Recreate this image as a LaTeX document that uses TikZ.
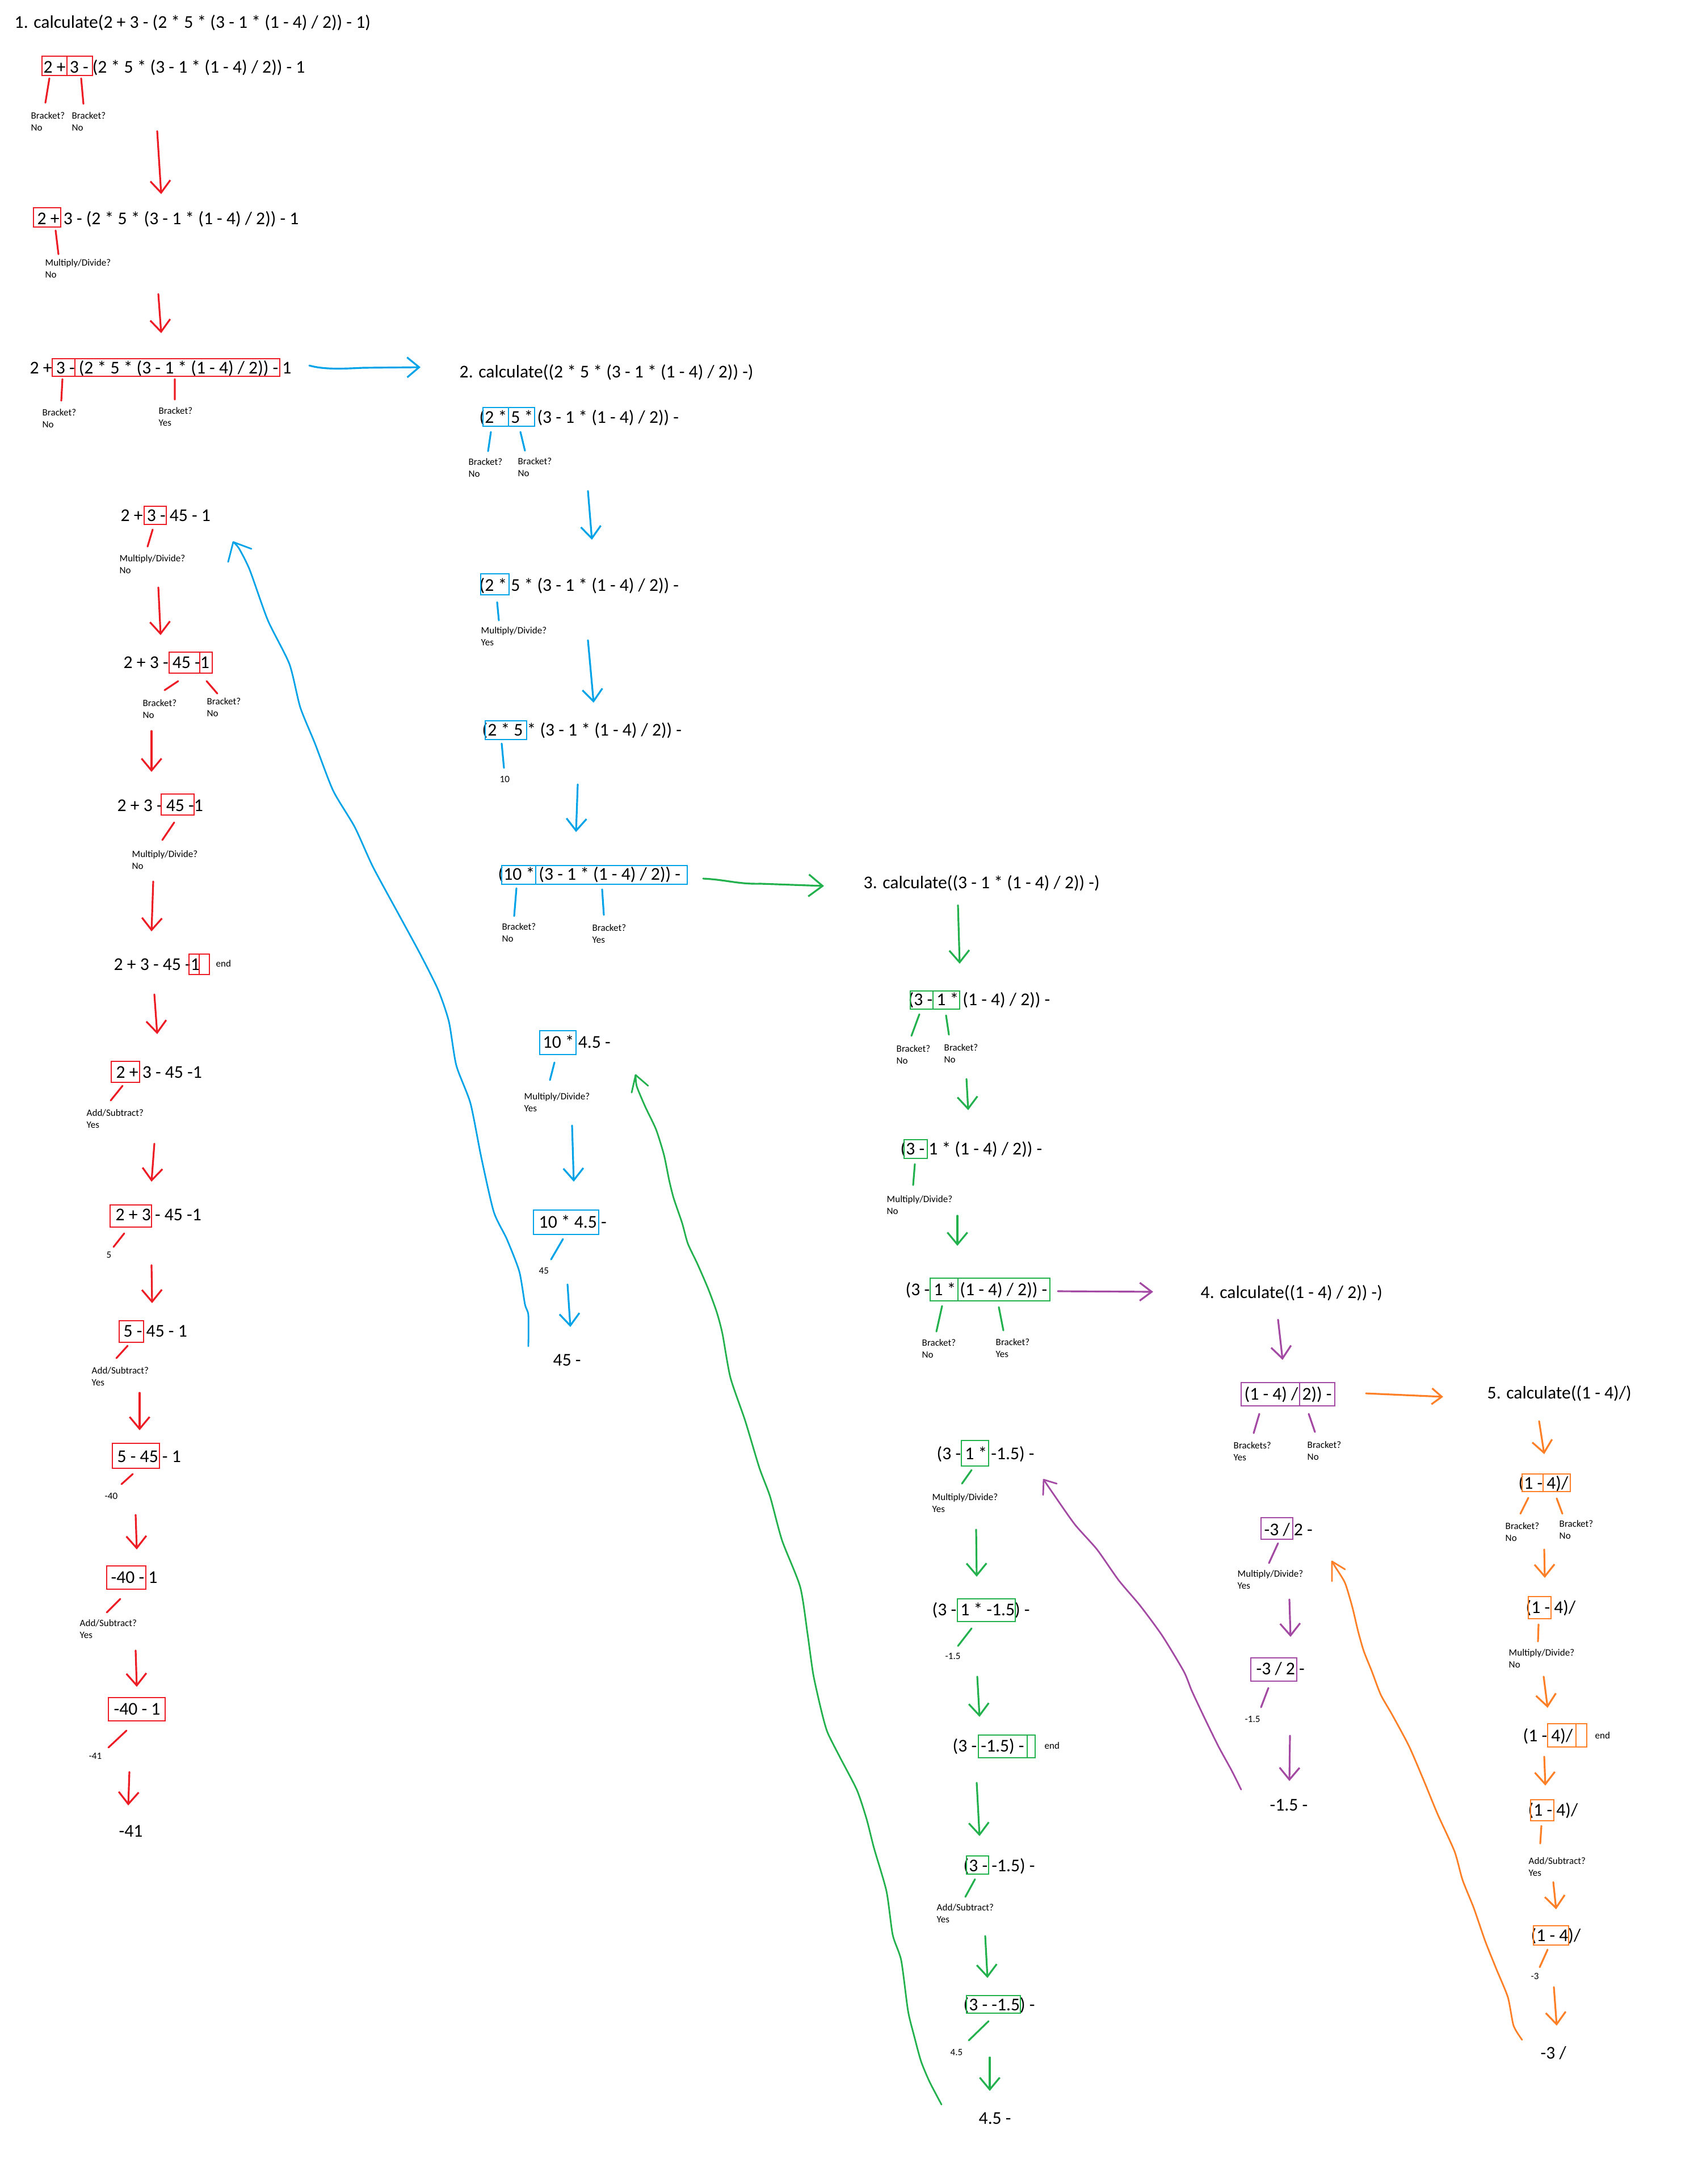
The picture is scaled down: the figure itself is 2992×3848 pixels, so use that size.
\documentclass[tikz,border=0pt]{standalone}
\usepackage{fontspec}
\setmainfont{Carlito}
\usetikzlibrary{arrows.meta}
\definecolor{pr}{HTML}{ED1C24}
\definecolor{pb}{HTML}{00A2E8}
\definecolor{pg}{HTML}{22B14C}
\definecolor{pp}{HTML}{A349A4}
\definecolor{po}{HTML}{FF7F27}
\tikzset{
  ex/.style={font=\fontsize{9}{11}\selectfont, inner sep=0pt, anchor=base west},
  lb/.style={font=\fontsize{4.85}{6}\selectfont, inner sep=0pt, anchor=base west},
  bx/.style={line width=0.8pt},
  ln/.style={line width=0.9pt, line cap=round},
  ar/.style={ln, -{Straight Barb[length=6pt,width=10pt]}},
  crv/.style={line width=0.8pt, line join=round, line cap=round}
}
% expression line: name, left x, centre y, text
\newcommand\xpr[4]{\node[ex] (#1) at (#2,#3+10) {#4};}
% two-line question label: name, x, centre y of first line, question, answer
\newcommand\qlab[5]{\node[lb] (#1) at (#2,#3+5.5) {#4};\node[lb] (#1b) at (#2,#3+26.5) {#5};}
% one-line small label
\newcommand\vlab[4]{\node[lb] (#1) at (#2,#3+5.5) {#4};}
\begin{document}
\begin{tikzpicture}[x=0.01cm,y=-0.01cm]
\fill[white] (0,0) rectangle (2992,3848);
\useasboundingbox (0,0) rectangle (2992,3848);

% ---------------- 1. outer call (red) ----------------
\xpr{t1}{25}{40}{1. calculate(2 + 3 - (2 * 5 * (3 - 1 * (1 - 4) / 2)) - 1)}
\xpr{r1}{76}{118}{2 + 3 - (2 * 5 * (3 - 1 * (1 - 4) / 2)) - 1}
\draw[bx,pr] (74,99) rectangle (118,133) (118,99) rectangle (163,133);
\draw[ln,pr] (87,138) -- (80,181) (143,138) -- (147,183);
\qlab{r1a}{54}{204}{Bracket?}{No}
\qlab{r1c}{126}{204}{Bracket?}{No}
\draw[ar,pr] (277,231) -- (284,342);

\xpr{r2}{65}{385}{2 + 3 - (2 * 5 * (3 - 1 * (1 - 4) / 2)) - 1}
\draw[bx,pr] (59,366) rectangle (107,400);
\draw[ln,pr] (98,406) -- (103,448);
\qlab{r2a}{79}{463}{Multiply/Divide?}{No}
\draw[ar,pr] (279,518) -- (284,587);

\xpr{r3}{52}{648}{2 + 3 - (2 * 5 * (3 - 1 * (1 - 4) / 2)) - 1}
\draw[bx,pr] (92,632) rectangle (493,663) (132,632) -- (132,663);
\draw[ln,pr] (110,668) -- (108,706) (308,668) -- (308,704);
\qlab{r3a}{74}{727}{Bracket?}{No}
\qlab{r3c}{279}{724}{Bracket?}{Yes}
\draw[ln,pb,-{Straight Barb[length=6pt,width=10pt]}] (545,644) .. controls (570,651) and (600,650) .. (640,648) -- (741,647);

\xpr{r4}{212}{908}{2 + 3 - 45 - 1}
\draw[bx,pr] (254,892) rectangle (293,924);
\draw[ln,pr] (269,933) -- (260,963);
\qlab{r4a}{210}{984}{Multiply/Divide?}{No}
\draw[ar,pr] (279,1035) -- (283,1119);

\xpr{r5}{217}{1167}{2 + 3 - 45 -1}
\draw[bx,pr] (298,1149) rectangle (352,1186) (352,1149) rectangle (374,1186);
\draw[ln,pr] (314,1200) -- (290,1216) (364,1200) -- (383,1222);
\qlab{r5a}{251}{1239}{Bracket?}{No}
\qlab{r5c}{364}{1236}{Bracket?}{No}
\draw[ar,pr] (267,1288) -- (267,1360);

\xpr{r6}{206}{1419}{2 + 3 - 45 -1}
\draw[bx,pr] (284,1399) rectangle (342,1436);
\draw[ln,pr] (307,1449) -- (286,1480);
\qlab{r6a}{232}{1505}{Multiply/Divide?}{No}
\draw[ar,pr] (270,1553) -- (267,1641);

\xpr{r7}{200}{1699}{2 + 3 - 45 -1}
\draw[bx,pr] (333,1681) rectangle (369,1717) (351,1681) -- (351,1717);
\vlab{r7e}{380}{1698}{end}
\draw[ar,pr] (272,1752) -- (277,1822);

\xpr{r8}{204}{1889}{2 + 3 - 45 -1}
\draw[bx,pr] (196,1870) rectangle (246,1907);
\draw[ln,pr] (216,1913) -- (195,1939);
\qlab{r8a}{152}{1961}{Add/Subtract?}{Yes}
\draw[ar,pr] (272,2015) -- (267,2082);

\xpr{r9}{203}{2140}{2 + 3 - 45 -1}
\draw[bx,pr] (194,2123) rectangle (267,2162);
\draw[ln,pr] (219,2173) -- (200,2197);
\vlab{r9a}{187}{2211}{5}
\draw[ar,pr] (267,2229) -- (268,2296);

\xpr{r10}{217}{2345}{5 - 45 - 1}
\draw[bx,pr] (210,2327) rectangle (253,2365);
\draw[ln,pr] (225,2371) -- (205,2393);
\qlab{r10a}{161}{2415}{Add/Subtract?}{Yes}
\draw[ar,pr] (246,2454) -- (246,2520);

\xpr{r11}{206}{2566}{5 - 45 - 1}
\draw[bx,pr] (198,2543) rectangle (281,2587);
\draw[ln,pr] (234,2597) -- (214,2615);
\vlab{r11a}{184}{2636}{-40}
\draw[ar,pr] (239,2669) -- (241,2730);

\xpr{r12}{195}{2779}{-40 - 1}
\draw[bx,pr] (188,2759) rectangle (257,2800);
\draw[ln,pr] (212,2817) -- (188,2841);
\qlab{r12a}{140}{2860}{Add/Subtract?}{Yes}
\draw[ar,pr] (239,2908) -- (241,2972);

\xpr{r13}{200}{3011}{-40 - 1}
\draw[bx,pr] (191,2991) rectangle (291,3032);
\draw[ln,pr] (223,3049) -- (191,3079);
\vlab{r13a}{156}{3094}{-41}
\draw[ar,pr] (228,3122) -- (226,3181);
\xpr{r14}{209}{3226}{-41}

% ---------------- 2. call (blue) ----------------
\xpr{t2}{809}{655}{2. calculate((2 * 5 * (3 - 1 * (1 - 4) / 2)) -)}
\xpr{b1}{844}{735}{(2 * 5 * (3 - 1 * (1 - 4) / 2)) -}
\draw[bx,pb] (851,718) rectangle (896,751) (896,718) rectangle (942,751);
\draw[ln,pb] (865,761) -- (860,795) (917,761) -- (925,794);
\qlab{b1a}{825}{814}{Bracket?}{No}
\qlab{b1c}{912}{813}{Bracket?}{No}
\draw[ar,pb] (1036,865) -- (1043,951);

\xpr{b2}{844}{1031}{(2 * 5 * (3 - 1 * (1 - 4) / 2)) -}
\draw[bx,pb] (847,1011) rectangle (897,1048);
\draw[ln,pb] (876,1061) -- (879,1093);
\qlab{b2a}{847}{1111}{Multiply/Divide?}{Yes}
\draw[ar,pb] (1036,1128) -- (1046,1238);

\xpr{b3}{849}{1286}{(2 * 5 * (3 - 1 * (1 - 4) / 2)) -}
\draw[bx,pb] (855,1270) rectangle (928,1303);
\draw[ln,pb] (884,1310) -- (888,1353);
\vlab{b3a}{880}{1373}{10}
\draw[ar,pb] (1018,1382) -- (1015,1466);

\xpr{b4}{877}{1540}{(10 * (3 - 1 * (1 - 4) / 2)) -}
\draw[bx,pb] (884,1525) rectangle (1211,1558) (944,1525) -- (944,1558);
\draw[ln,pb] (910,1565) -- (906,1614) (1061,1567) -- (1064,1612);
\qlab{b4a}{884}{1633}{Bracket?}{No}
\qlab{b4c}{1043}{1635}{Bracket?}{Yes}
\draw[ln,pg,-{Straight Barb[length=7pt,width=11pt]}] (1239,1548) .. controls (1280,1550) and (1300,1558) .. (1340,1557) -- (1452,1561);

\xpr{b5}{956}{1836}{10 * 4.5 -}
\draw[bx,pb] (951,1816) rectangle (1015,1858);
\draw[ln,pb] (977,1872) -- (969,1903);
\qlab{b5a}{923}{1932}{Multiply/Divide?}{Yes}
\draw[ar,pb] (1008,1983) -- (1011,2082);

\xpr{b6}{949}{2153}{10 * 4.5 -}
\draw[bx,pb] (940,2132) rectangle (1055,2175);
\draw[ln,pb] (992,2183) -- (971,2219);
\vlab{b6a}{949}{2239}{45}
\draw[ar,pb] (1000,2263) -- (1005,2338);
\xpr{b7}{974}{2396}{45 -}

% return of call 2 into call 1
\draw[crv,pb] plot[smooth,tension=0.4] coordinates {(931,2372) (931,2317) (925,2298) (915,2240) (893,2183) (870,2135) (848,2039) (829,1944) (804,1877) (791,1800) (772,1744) (740,1680) (702,1610) (657,1527) (625,1457) (587,1393) (555,1310) (529,1246) (510,1170) (472,1093) (440,1004) (421,966) (411,955)};
\draw[crv,pb] (411,955) -- (402,990) (411,955) -- (443,967);

% ---------------- 3. call (green) ----------------
\xpr{t3}{1521}{1555}{3. calculate((3 - 1 * (1 - 4) / 2)) -)}
\draw[ar,pg] (1688,1595) -- (1691,1698);
\xpr{g1}{1600}{1761}{(3 - 1 * (1 - 4) / 2)) -}
\draw[bx,pg] (1604,1746) rectangle (1644,1778) (1644,1746) rectangle (1691,1778);
\draw[ln,pg] (1620,1787) -- (1606,1825) (1667,1789) -- (1672,1823);
\qlab{g1a}{1579}{1848}{Bracket?}{No}
\qlab{g1c}{1663}{1846}{Bracket?}{No}
\draw[ar,pg] (1703,1901) -- (1706,1956);

\xpr{g2}{1586}{2024}{(3 - 1 * (1 - 4) / 2)) -}
\draw[bx,pg] (1593,2008) rectangle (1634,2041);
\draw[ln,pg] (1612,2051) -- (1609,2088);
\qlab{g2a}{1562}{2113}{Multiply/Divide?}{No}
\draw[ar,pg] (1687,2142) -- (1687,2195);

\xpr{g3}{1595}{2272}{(3 - 1 * (1 - 4) / 2)) -}
\draw[bx,pg] (1639,2252) rectangle (1850,2292) (1688,2252) -- (1688,2292);
\draw[ln,pg] (1660,2301) -- (1650,2346) (1760,2303) -- (1768,2344);
\qlab{g3a}{1624}{2366}{Bracket?}{No}
\qlab{g3c}{1754}{2365}{Bracket?}{Yes}
\draw[ln,pp,-{Straight Barb[length=6pt,width=9pt]}] (1864,2275) -- (2032,2276);

\xpr{g4}{1650}{2561}{(3 - 1 * -1.5) -}
\draw[bx,pg] (1694,2538) rectangle (1742,2583);
\draw[ln,pg] (1712,2590) -- (1695,2614);
\qlab{g4a}{1642}{2638}{Multiply/Divide?}{Yes}
\draw[ar,pg] (1720,2695) -- (1721,2778);

\xpr{g5}{1642}{2836}{(3 - 1 * -1.5) -}
\draw[bx,pg] (1687,2817) rectangle (1789,2857);
\draw[ln,pg] (1712,2869) -- (1688,2900);
\vlab{g5a}{1665}{2918}{-1.5}
\draw[ar,pg] (1722,2954) -- (1726,3025);

\xpr{g6}{1678}{3076}{(3 - -1.5) -}
\draw[bx,pg] (1724,3057) rectangle (1824,3097) (1810,3057) -- (1810,3097);
\vlab{g6e}{1840}{3076}{end}
\draw[ar,pg] (1721,3141) -- (1726,3235);

\xpr{g7}{1697}{3287}{(3 - -1.5) -}
\draw[bx,pg] (1703,3270) rectangle (1742,3302);
\draw[ln,pg] (1718,3311) -- (1701,3342);
\qlab{g7a}{1650}{3361}{Add/Subtract?}{Yes}
\draw[ar,pg] (1736,3411) -- (1740,3485);

\xpr{g8}{1697}{3532}{(3 - -1.5) -}
\draw[bx,pg] (1703,3516) rectangle (1798,3547);
\draw[ln,pg] (1742,3561) -- (1707,3595);
\vlab{g8a}{1674}{3616}{4.5}
\draw[ar,pg] (1744,3625) -- (1744,3684);
\xpr{g9}{1724}{3732}{4.5 -}

% return of call 3 into call 2
\draw[crv,pg] plot[smooth,tension=0.4] coordinates {(1659,3708) (1638,3668) (1623,3632) (1611,3588) (1600,3543) (1588,3454) (1573,3409) (1562,3332) (1540,3256) (1527,3205) (1510,3154) (1480,3096) (1458,3052) (1447,3013) (1433,2950) (1423,2879) (1410,2796) (1378,2714) (1357,2637) (1338,2586) (1313,2503) (1287,2427) (1273,2350) (1263,2312) (1248,2271) (1229,2227) (1212,2191) (1202,2155) (1187,2111) (1179,2079) (1170,2035) (1156,1990) (1137,1950) (1122,1914) (1120,1894)};
\draw[crv,pg] (1120,1894) -- (1113,1925) (1120,1894) -- (1142,1913);

% ---------------- 4. call (purple) ----------------
\xpr{t4}{2115}{2277}{4. calculate((1 - 4) / 2)) -)}
\draw[ar,pp] (2252,2325) -- (2260,2396);
\xpr{p1}{2192}{2456}{(1 - 4) / 2)) -}
\draw[bx,pp] (2187,2436) rectangle (2352,2477) (2290,2436) -- (2290,2477);
\draw[ln,pp] (2219,2491) -- (2209,2525) (2306,2491) -- (2317,2523);
\qlab{p1a}{2173}{2547}{Brackets?}{Yes}
\qlab{p1c}{2303}{2546}{Bracket?}{No}
\draw[ln,po,-{Straight Barb[length=5pt,width=8pt]}] (2407,2455) -- (2543,2461);

\xpr{p2}{2227}{2695}{-3 / 2 -}
\draw[bx,pp] (2222,2674) rectangle (2278,2712);
\draw[ln,pp] (2252,2719) -- (2236,2754);
\qlab{p2a}{2180}{2773}{Multiply/Divide?}{Yes}
\draw[ar,pp] (2272,2818) -- (2274,2884);

\xpr{p3}{2213}{2940}{-3 / 2 -}
\draw[bx,pp] (2204,2921) rectangle (2285,2962);
\draw[ln,pp] (2235,2974) -- (2222,3008);
\vlab{p3a}{2193}{3029}{-1.5}
\draw[ar,pp] (2273,3058) -- (2272,3138);
\xpr{p4}{2237}{3180}{-1.5 -}

% return of call 4 into call 3
\draw[crv,pp] plot[smooth,tension=0.4] coordinates {(2187,3153) (2170,3119) (2147,3077) (2123,3028) (2100,2979) (2086,2945) (2048,2882) (2009,2829) (1971,2784) (1933,2730) (1894,2686) (1856,2632) (1839,2607)};
\draw[crv,pp] (1839,2607) -- (1838,2634) (1839,2607) -- (1862,2614);

% ---------------- 5. call (orange) ----------------
\xpr{t5}{2620}{2454}{5. calculate((1 - 4)/)}
\draw[ar,po] (2712,2504) -- (2721,2562);
\xpr{o1}{2675}{2613}{(1 - 4)/}
\draw[bx,po] (2682,2597) rectangle (2767,2628) (2719,2597) -- (2719,2628);
\draw[ln,po] (2693,2639) -- (2679,2667) (2743,2640) -- (2753,2667);
\qlab{o1a}{2652}{2689}{Bracket?}{No}
\qlab{o1c}{2747}{2685}{Bracket?}{No}
\draw[ar,po] (2721,2730) -- (2722,2780);

\xpr{o2}{2688}{2832}{(1 - 4)/}
\draw[bx,po] (2693,2813) rectangle (2733,2852);
\draw[ln,po] (2711,2862) -- (2710,2892);
\qlab{o2a}{2658}{2912}{Multiply/Divide?}{No}
\draw[ar,po] (2720,2954) -- (2727,3009);

\xpr{o3}{2683}{3058}{(1 - 4)/}
\draw[bx,po] (2727,3037) rectangle (2796,3078) (2777,3037) -- (2777,3078);
\vlab{o3e}{2810}{3058}{end}
\draw[ar,po] (2721,3095) -- (2723,3146);

\xpr{o4}{2692}{3189}{(1 - 4)/}
\draw[bx,po] (2697,3171) rectangle (2738,3208);
\draw[ln,po] (2716,3217) -- (2714,3248);
\qlab{o4a}{2693}{3279}{Add/Subtract?}{Yes}
\draw[ar,po] (2737,3316) -- (2742,3364);

\xpr{o5}{2697}{3410}{(1 - 4)/}
\draw[bx,po] (2702,3393) rectangle (2764,3427);
\draw[ln,po] (2727,3435) -- (2713,3466);
\vlab{o5a}{2697}{3482}{-3}
\draw[ar,po] (2738,3501) -- (2743,3569);
\xpr{o6}{2714}{3617}{-3 /}

% return of call 5 into call 4
\draw[crv,po] plot[smooth,tension=0.4] coordinates {(2682,3594) (2667,3569) (2657,3519) (2637,3470) (2617,3420) (2597,3362) (2577,3312) (2563,3262) (2533,3196) (2510,3140) (2483,3077) (2453,3021) (2433,2986) (2417,2944) (2403,2909) (2393,2874) (2383,2832) (2370,2789) (2353,2761) (2347,2751)};
\draw[crv,po] (2347,2751) -- (2347,2786) (2347,2751) -- (2370,2765);
\end{tikzpicture}
\end{document}
